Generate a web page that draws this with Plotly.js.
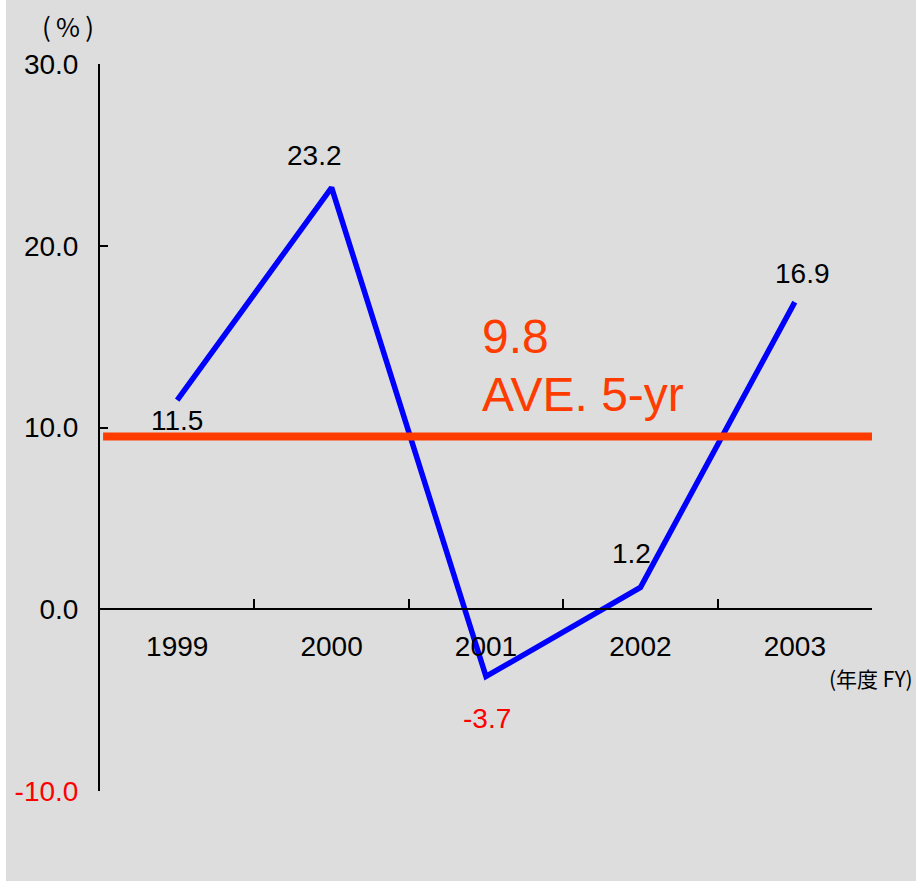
<!DOCTYPE html>
<html>
<head>
<meta charset="utf-8">
<script src="https://cdn.plot.ly/plotly-3.0.1.min.js"></script>
<style>
html,body{margin:0;padding:0;background:#ffffff;}
#chart{position:absolute;left:6px;top:0;width:910px;height:881px;}
</style>
</head>
<body>
<div id="chart"></div>
<script>
// ---- data ----
var years = ["1999", "2000", "2001", "2002", "2003"];
var growth = [11.5, 23.2, -3.7, 1.2, 16.9];
var growthLabels = ["11.5", "23.2", "-3.7", "1.2", "16.9"];
var avgValue = 9.8;          // printed average
var avgLineLevel = 9.5;      // level where the average line is drawn in the picture
var yTickVals = [-10, 0, 10, 20, 30];
var yTickText = ["-10.0", "0.0", "10.0", "20.0", "30.0"];

// ---- styles ----
var FONT = "Liberation Sans, Arial, sans-serif";
var CJK = "Noto Sans CJK JP, Liberation Sans, sans-serif";
var RED = "#ff0000";
var AVG = "#ff3c00";
var FS = 28;

var yText = yTickText.map(function (t, i) {
  return yTickVals[i] < 0 ? '<span style="color:' + RED + '">' + t + '</span>' : t;
});

// label offsets (px) relative to each point
var labelShift = [
  {dx: 0, dy: -20, color: "#000000"},
  {dx: -17, dy: 32, color: "#000000"},
  {dx: 1, dy: -42, color: RED},
  {dx: -9, dy: 34, color: "#000000"},
  {dx: 8, dy: 29, color: "#000000"}
];

// category axes take the category index for annotation positions
var annotations = years.map(function (yr, i) {
  return {
    x: i, y: growth[i], xref: "x", yref: "y",
    text: growthLabels[i], showarrow: false,
    xanchor: "center", yanchor: "middle",
    xshift: labelShift[i].dx, yshift: labelShift[i].dy,
    font: {family: FONT, size: FS, color: labelShift[i].color}
  };
});

annotations.push({
  x: 2, y: avgLineLevel, xref: "x", yref: "y",
  text: avgValue.toFixed(1), showarrow: false,
  xanchor: "left", yanchor: "middle", xshift: -6, yshift: 100,
  font: {family: FONT, size: 48, color: AVG}
});
annotations.push({
  x: 2, y: avgLineLevel, xref: "x", yref: "y",
  text: "AVE. 5-yr", showarrow: false,
  xanchor: "left", yanchor: "middle", xshift: -6, yshift: 42,
  font: {family: FONT, size: 48, color: AVG}
});
annotations.push({
  x: 0, y: 1, xref: "paper", yref: "paper",
  text: "(\u2009%\u2009)", showarrow: false,
  xanchor: "center", yanchor: "middle", xshift: -32, yshift: 39,
  font: {family: CJK, size: 26, color: "#000000"}
});
annotations.push({
  x: 1, y: 0, xref: "paper", yref: "y",
  text: "(年度 FY)", showarrow: false,
  xanchor: "right", yanchor: "middle", xshift: 43, yshift: -69,
  font: {family: CJK, size: 21, color: "#000000"}
});

var trace = {
  type: "scatter", mode: "lines",
  x: years, y: growth,
  line: {color: "#0000ff", width: 5.5},
  hoverinfo: "skip", showlegend: false
};

var layout = {
  width: 910, height: 881,
  paper_bgcolor: "#dddddd", plot_bgcolor: "#dddddd",
  margin: {l: 94, r: 44, t: 64, b: 90},
  showlegend: false,
  xaxis: {
    type: "category", range: [-0.5, 4.5],
    anchor: "free", position: 0.25,
    showline: true, linecolor: "#000000", linewidth: 2,
    ticks: "inside", tickson: "boundaries", ticklen: 9, tickwidth: 2, tickcolor: "#000000",
    showgrid: false, zeroline: false,
    ticklabelstandoff: 12,
    tickfont: {family: FONT, size: FS, color: "#000000"},
    fixedrange: true
  },
  yaxis: {
    range: [-10, 30],
    tickvals: yTickVals, ticktext: yText,
    showline: true, linecolor: "#000000", linewidth: 2,
    ticks: "inside", ticklen: 8, tickwidth: 2, tickcolor: "#000000",
    showgrid: false, zeroline: false,
    ticklabelstandoff: 14,
    tickfont: {family: FONT, size: FS, color: "#000000"},
    fixedrange: true
  },
  shapes: [{
    type: "line", layer: "above",
    xref: "paper", yref: "y",
    x0: 0.004, x1: 1, y0: avgLineLevel, y1: avgLineLevel,
    line: {color: AVG, width: 8}
  }],
  annotations: annotations
};

Plotly.newPlot("chart", [trace], layout, {staticPlot: true, displayModeBar: false});
</script>
</body>
</html>
